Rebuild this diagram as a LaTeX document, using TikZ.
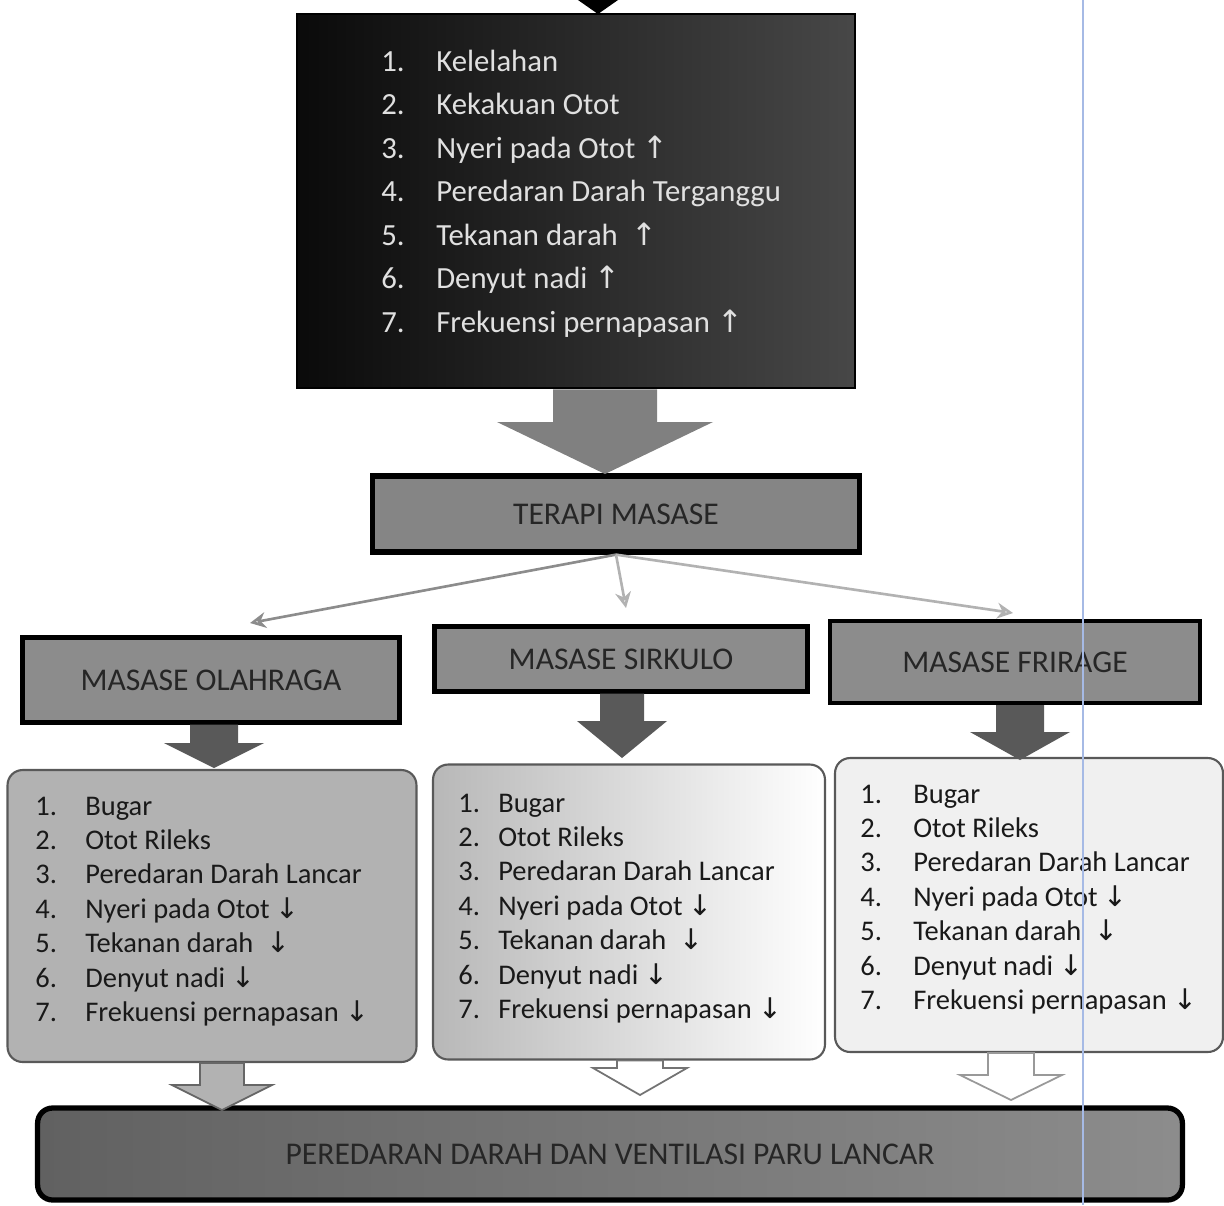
\documentclass[tikz,border=0pt]{standalone}
\usepackage{fontspec}
\setmainfont{Carlito}
\newfontfamily\panahfont{DejaVu Sans}
\usetikzlibrary{calc,arrows.meta}

\newcommand{\naik}{{\panahfont\char"2191}}
\newcommand{\turun}{{\panahfont\char"2193}}
% block arrow: style, start, tip, half shaft, half head, head length
\newcommand{\panahblok}[6]{%
  \path[#1] ($(#2)+(-#4,0)$) -- ($(#2)+(#4,0)$) -- ($(#3)+(#4,-#6)$) -- ($(#3)+(#5,-#6)$)
    -- (#3) -- ($(#3)+(-#5,-#6)$) -- ($(#3)+(-#4,-#6)$) -- cycle;}
\newcommand{\daftarhasil}[1]{%
  \begin{tabular}[t]{@{}p{#1}@{}l@{}}
  1. & Bugar\\
  2. & Otot Rileks\\
  3. & Peredaran Darah Lancar\\
  4. & Nyeri pada Otot \turun\\
  5. & Tekanan darah \ \turun\\
  6. & Denyut nadi \turun\\
  7. & Frekuensi pernapasan \turun
  \end{tabular}}

\tikzset{
  gejalabox/.style={draw=black, line width=1.5pt, shade, left color=black!96, right color=black!72},
  judul/.style={draw=black, line width=2.5pt, fill=black!45, text=black!85,
    font=\fontsize{18}{22}\selectfont},
  isibox/.style={draw=black!65, line width=1.2pt, rounded corners=0.3cm},
  daftar/.style={anchor=base west, inner sep=0pt, text=black!90,
    font=\fontsize{16.2}{19.6}\selectfont},
  hasilbox/.style={draw=black, line width=3pt, rounded corners=0.3cm, shade,
    left color=black!62, right color=black!45, text=black!85,
    font=\fontsize{18}{22}\selectfont},
  cabang/.style={draw=black!45, line width=1.5pt, -{Stealth[length=9pt,width=9pt,open]}},
}

\begin{document}
\begin{tikzpicture}[x=0.02cm, y=-0.02cm]
  \useasboundingbox (0,0) rectangle (1224,1205);

  % gejala
  \node[gejalabox, minimum width=11.16cm, minimum height=7.48cm] (gejala) at (576,201) {};
  \node[daftar, text=black!12, font=\fontsize{17.5}{24.8}\selectfont] (isigejala) at (381,71) {%
    \begin{tabular}[t]{@{}p{1.1cm}@{}l@{}}
    1. & Kelelahan\\
    2. & Kekakuan Otot\\
    3. & Nyeri pada Otot \naik\\
    4. & Peredaran Darah Terganggu\\
    5. & Tekanan darah \ \naik\\
    6. & Denyut nadi \naik\\
    7. & Frekuensi pernapasan \naik
    \end{tabular}};
  \coordinate (atas) at (598,-40);
  \coordinate (ujungatas) at (598,14);
  \panahblok{fill=black}{atas}{ujungatas}{14}{40}{28}

  % terapi
  \node[judul, line width=3pt, fill=black!48, minimum width=9.74cm, minimum height=1.52cm] (terapi) at (616,514) {TERAPI MASASE};
  \coordinate (ujungterapi) at (605,474);
  \coordinate (pangkalterapi) at (gejala.south -| ujungterapi);
  \panahblok{fill=black!50}{pangkalterapi}{ujungterapi}{52}{108}{52}

  % jenis masase
  \node[judul, minimum width=7.54cm, minimum height=1.7cm] (olahraga) at (211,680) {MASASE OLAHRAGA};
  \node[judul, minimum width=7.46cm, minimum height=1.3cm] (sirkulo) at (621,659) {MASASE SIRKULO};
  \node[judul, minimum width=7.4cm, minimum height=1.64cm] (frirage) at (1015,662) {MASASE FRIRAGE};

  \coordinate (kiricabang) at (250,623);
  \coordinate (tengahcabang) at (626,608);
  \coordinate (kanancabang) at (1013,613);
  \draw[cabang] (terapi.south) -- (kiricabang);
  \draw[cabang, draw=black!30] (terapi.south) -- (tengahcabang);
  \draw[cabang, draw=black!30] (terapi.south) -- (kanancabang);

  % hasil
  \node[isibox, fill=black!30, minimum width=8.18cm, minimum height=5.84cm] (hasilA) at (212,916) {};
  \node[isibox, shade, left color=black!28, right color=white, minimum width=7.84cm, minimum height=5.9cm] (hasilB) at (629,912) {};
  \node[isibox, fill=black!6, minimum width=7.76cm, minimum height=5.88cm] (hasilC) at (1029,905) {};
  \node[daftar] (isiA) at (35,815) {\daftarhasil{1.0cm}};
  \node[daftar] (isiB) at (458,812) {\daftarhasil{0.8cm}};
  \node[daftar] (isiC) at (860,803) {\daftarhasil{1.06cm}};

  \coordinate (ujungA) at (214,768);
  \coordinate (pangkalA) at (olahraga.south -| ujungA);
  \panahblok{fill=black!65}{pangkalA}{ujungA}{24}{50}{25}
  \coordinate (ujungB) at (622,758);
  \coordinate (pangkalB) at (sirkulo.south -| ujungB);
  \panahblok{fill=black!65}{pangkalB}{ujungB}{22}{45}{37}
  \coordinate (ujungC) at (1020,760);
  \coordinate (pangkalC) at (frirage.south -| ujungC);
  \panahblok{fill=black!65}{pangkalC}{ujungC}{24}{50}{28}

  % akhir
  \node[hasilbox, minimum width=22.9cm, minimum height=1.84cm] (akhir) at (610,1154) {PEREDARAN DARAH DAN VENTILASI PARU LANCAR};

  \coordinate (ujungD) at (222,1110);
  \coordinate (pangkalD) at (hasilA.south -| ujungD);
  \panahblok{fill=black!30, draw=black!60, line width=1pt}{pangkalD}{ujungD}{22}{50}{25}
  \coordinate (ujungE) at (640,1095);
  \coordinate (pangkalE) at (hasilB.south -| ujungE);
  \panahblok{fill=white, draw=black!55, line width=1pt}{pangkalE}{ujungE}{23}{47}{27}
  \coordinate (ujungF) at (1011,1100);
  \coordinate (pangkalF) at (hasilC.south -| ujungF);
  \panahblok{fill=white, draw=black!40, line width=1pt}{pangkalF}{ujungF}{23}{51}{25}

  \draw[cyan!45!blue!35, line width=1pt] (1083,0) -- (1083,1205);
\end{tikzpicture}
\end{document}
